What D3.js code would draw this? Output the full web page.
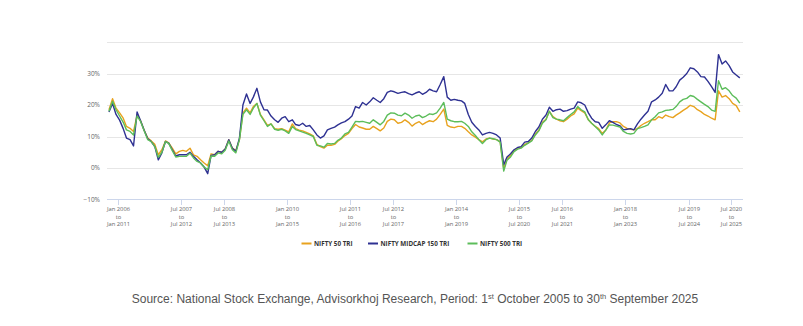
<!DOCTYPE html>
<html><head><meta charset="utf-8">
<script src="https://cdn.jsdelivr.net/npm/d3@7"></script>
<style>
html,body{margin:0;padding:0;background:#fff;}
svg{display:block;}
</style></head>
<body>
<svg id="chart" width="803" height="326"></svg>
<script>
// Start month of each 5-year rolling period (monthly, Oct 2005 .. Sep 2020)
const startMonth = "2005-10";
const nifty50 = [18.5,22,19,17.5,15.8,13.2,12.6,11.6,16.8,15,12,9.5,8.6,7.5,4.2,5.8,8.6,8,6.3,4.5,5.3,5.6,5.3,6.3,4.2,3.7,2.6,1.6,0.7,4.5,4.2,5.3,5,6,9,6.3,
5.5,9,17.5,19,17.5,19.5,20.5,17,15.3,13.5,14,12.5,12.3,12.5,12,11.5,14,12.5,12,11.8,11.3,10.8,10.2,7.5,6.8,6.3,7.2,7.2,7.5,8.5,9.3,10.3,11,12.5,13.8,13,
12.7,12.3,12.3,13.2,12.5,11.8,12.7,14.8,15.5,15.3,14.2,14.5,15.3,14.5,13.3,14.2,14.7,13.8,14.5,15,14.7,15.5,17,18.7,13.5,13,12.8,13.2,13.2,12.6,11.5,10.5,9.8,9,8.3,9.2,
9.5,9.2,9,8.4,-0.3,3,4,5.5,6.3,6.5,7.5,8,8.8,10.8,12,14.5,15.5,18,16.3,15.5,15,14.7,15.5,16.5,17.2,19,18.2,17.5,15.3,14.2,13.2,12.5,11,12,14.3,14.7,
14.7,14.3,13.2,12.6,12.3,12.1,12.5,13.5,14.2,14.7,15.3,15.3,16.3,15.8,16.8,16.3,16,16.8,17.5,18.3,19,19.9,19.5,18.5,17.9,17,16.5,15.8,15.3,24.5,22.5,23,22,20.5,19.8,17.8];
const midcap150 = [17.8,20.5,17,15.2,12.5,9.5,9,7,17.8,15,12,9.3,8.4,6.8,2.6,4.8,8.4,7.9,5.8,3.8,4.2,4.2,4.2,5,3.7,2.6,1.6,0.3,-1.8,4,4.2,5.3,5,6,9,6.3,
5.3,9.5,20,23.5,20.5,22.5,25.3,21,18.5,18.4,16.5,15.3,14.5,15.8,16.3,14.7,15.3,13.8,13.5,14.2,13.2,13.5,12.1,10.5,9.5,10.2,12.1,12.6,13,13.7,14.3,14.7,15.5,16.5,19.5,19,
20.8,20,21,22.3,21.5,20.8,22,24,24.5,24.2,23.7,24,24.2,23.6,23.2,23.8,24.2,23.4,24,25,24.5,24.2,26.5,29,22.5,21.5,21.8,21.5,21.3,20.5,17,14.5,13.2,12.1,10.5,11,
11.3,11,10.5,9.5,1,3.5,4.5,5.8,6.5,6.8,8.2,8.4,9.5,11.6,13,15.5,16.8,19.3,18,18.5,18.7,18,18.2,18.7,19,21,20.7,20,17.5,15.8,14.7,14.5,12.6,13.7,15,14.5,
13.8,13.4,12.1,12.3,12.5,12.1,14,15.5,16.8,18,21,21.6,22.5,23.7,26.5,24.5,24.5,25.8,27.9,28.8,30,31.8,31.5,30.5,29,28.9,27.5,25.8,24,36,33,34,32.5,30.5,29.5,28.6];
const nifty500 = [18,21.2,18.5,16.5,14.5,12.1,11.6,10.5,16.5,14.8,11.8,9,8.4,6.8,3.4,5,8.4,7.8,5.5,3.5,3.7,3.7,3.7,4.7,3.2,2.1,1.6,0.3,-0.5,3.8,3.7,4.8,4.5,5.6,8.6,5.8,
4.8,9,17,18.5,17,19,20.5,16.8,15,13.2,14,12.3,12,12.3,11.8,11,13.2,12.2,11.8,11.4,11,10.5,10,7.2,7,6.6,7.8,7.6,7.8,8.8,9.5,10.8,11.3,13,14.8,14.7,
14.8,14.5,14.2,15.3,14.5,13.7,14.8,16.8,17.5,17.4,16.8,16.6,17.4,16.8,15.8,16.5,16.8,16,16.5,17.2,17,17.5,19,20.8,15.5,15,14.7,14.7,14.8,14.2,13.2,11.5,10.3,9,7.8,9,
9.5,9.3,9,8.2,-1,2.5,3.5,5.2,6,6.3,7.2,7.9,8.6,10.5,11.8,14.2,15.3,18,16,15.5,15.3,15,16,17,17.8,19.5,18.5,17.8,15.3,14.2,13.2,12.1,10.5,12,13.7,13.6,
13.3,13,11.6,11,10.8,11,12.5,12.8,13.2,13.7,15.3,16.3,17.5,17.8,18.3,18.4,18.6,19.5,21,21.8,22.1,23,22.7,21.8,21,20.2,19.5,18.4,18,27.7,25,25.5,24.5,23,22.2,20.6];
const seriesNames = ["NIFTY 50 TRI","NIFTY MIDCAP 150 TRI","NIFTY 500 TRI"];
const seriesColors = ["#e8a21e","#2e3192","#5cbd5a"];
const yTicks = [-10,0,10,20,30,40];
const xTickDates = ["2006-01","2007-07","2008-07","2010-01","2011-07","2012-07","2014-01","2015-07","2016-07","2018-01","2019-07","2020-07"];
const xTickLabels = [["Jan 2006","to","Jan 2011"],["Jul 2007","to","Jul 2012"],["Jul 2008","to","Jul 2013"],["Jan 2010","to","Jan 2015"],["Jul 2011","to","Jul 2016"],["Jul 2012","to","Jul 2017"],["Jan 2014","to","Jan 2019"],["Jul 2015","to","Jul 2020"],["Jul 2016","to","Jul 2021"],["Jan 2018","to","Jan 2023"],["Jul 2019","to","Jul 2024"],["Jul 2020","to","Jul 2025"]];

const parseM = d3.timeParse("%Y-%m");
const start = parseM(startMonth);
const dates = nifty50.map((_, i) => { const d = d3.timeMonth.offset(start, i); d.setDate(15); return d; });
const allSeries = [nifty50, midcap150, nifty500];

const svg = d3.select("#chart");
const x = d3.scaleTime().domain([new Date(2006,0,1), new Date(2020,6,1)]).range([118, 731]);
const y = d3.scaleLinear().domain([-10, 40]).range([199.5, 42]);
const plotL = 107, plotR = 743;

// gridlines
svg.append("g").selectAll("line").data(yTicks.slice(1)).join("line")
  .attr("x1", plotL).attr("x2", plotR)
  .attr("y1", d => Math.round(y(d)) + 0.5).attr("y2", d => Math.round(y(d)) + 0.5)
  .attr("stroke", "#e6e6e6").attr("stroke-width", 1);

// y labels (top one hidden)
svg.append("g").selectAll("text").data(yTicks.slice(0, -1)).join("text")
  .attr("x", 100).attr("y", d => y(d) + 2.3)
  .attr("text-anchor", "end")
  .attr("font-family", "'Open Sans', sans-serif").attr("font-size", 6.5)
  .attr("fill", "#666")
  .text(d => (d < 0 ? "\u221210" : d) + "%");

// x axis line
svg.append("line").attr("x1", plotL).attr("x2", plotR)
  .attr("y1", 199.5).attr("y2", 199.5).attr("stroke", "#ccd6eb");

const tickG = svg.append("g").selectAll("g").data(xTickDates.map((d, i) => ({ d: parseM(d), lab: xTickLabels[i] }))).join("g")
  .attr("transform", t => `translate(${Math.round(x(t.d)) + 0.5},0)`);
tickG.append("line").attr("y1", 199.5).attr("y2", 205).attr("stroke", "#ccd6eb");
tickG.each(function(t) {
  const g = d3.select(this);
  t.lab.forEach((s, k) => {
    g.append("text").attr("x", 0).attr("y", 211 + k * 7.5)
      .attr("text-anchor", "middle")
      .attr("font-family", "'Open Sans', sans-serif").attr("font-size", 5.8)
      .attr("fill", "#666").text(s);
  });
});

// lines
const line = d3.line().x((d, i) => x(dates[i])).y(d => y(d));
[0, 1, 2].forEach(k => {
  svg.append("path").datum(allSeries[k])
    .attr("d", line).attr("fill", "none")
    .attr("stroke", seriesColors[k]).attr("stroke-width", 1.4)
    .attr("stroke-linejoin", "round");
});

// legend
const legX = [301.5, 368, 467.5];
seriesNames.forEach((n, k) => {
  svg.append("line").attr("x1", legX[k]).attr("x2", legX[k] + 10)
    .attr("y1", 243.5).attr("y2", 243.5).attr("stroke", seriesColors[k]).attr("stroke-width", 2);
  svg.append("text").attr("x", legX[k] + 12.5).attr("y", 245.8)
    .attr("font-family", "'Open Sans', sans-serif").attr("font-size", 6.3).attr("font-weight", "bold")
    .attr("fill", "#333").text(n);
});

// source
const src = svg.append("text").attr("x", 415).attr("y", 303).attr("text-anchor", "middle")
  .attr("font-family", "'Liberation Sans', Arial, sans-serif").attr("font-size", 12).attr("fill", "#555");
src.append("tspan").text("Source: National Stock Exchange, Advisorkhoj Research, Period: 1");
src.append("tspan").attr("font-size", 7.5).attr("dy", -4.5).text("st");
src.append("tspan").attr("dy", 4.5).text(" October 2005 to 30");
src.append("tspan").attr("font-size", 7.5).attr("dy", -4.5).text("th");
src.append("tspan").attr("dy", 4.5).text(" September 2025");
</script>
</body></html>
